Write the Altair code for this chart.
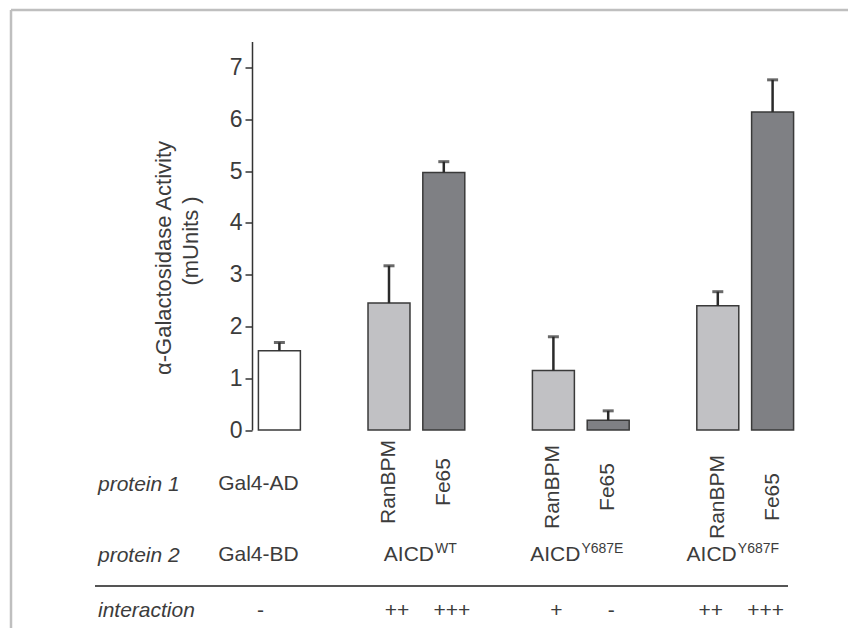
import altair as alt
import pandas as pd

# ---------------- data ----------------
categories = ["Gal4", "gap1", "RanBPM-WT", "Fe65-WT", "gap2",
              "RanBPM-Y687E", "Fe65-Y687E", "gap3", "RanBPM-Y687F", "Fe65-Y687F"]
bar_categories = ["Gal4", "RanBPM-WT", "Fe65-WT", "RanBPM-Y687E", "Fe65-Y687E",
                  "RanBPM-Y687F", "Fe65-Y687F"]
bar_group = ["control", "WT", "WT", "Y687E", "Y687E", "Y687F", "Y687F"]
bar_kind = ["control", "RanBPM", "Fe65", "RanBPM", "Fe65", "RanBPM", "Fe65"]
activity = [1.53, 2.45, 4.97, 1.15, 0.19, 2.40, 6.14]
error_up = [0.16, 0.72, 0.21, 0.65, 0.18, 0.27, 0.62]

protein1 = ["Gal4-AD", "RanBPM", "Fe65", "RanBPM", "Fe65", "RanBPM", "Fe65"]
interaction = ["-", "++", "+++", "+", "-", "++", "+++"]
protein2_base = ["Gal4-BD", "AICD", "AICD", "AICD"]
protein2_sup = ["", "WT", "Y687E", "Y687F"]
protein2_anchor = ["Gal4", "RanBPM-WT", "RanBPM-Y687E", "RanBPM-Y687F"]
protein2_group = ["control", "WT", "Y687E", "Y687F"]
row_labels = ["protein 1", "protein 2", "interaction"]

y_ticks = [0, 1, 2, 3, 4, 5, 6, 7]
y_title = ["\u03b1-Galactosidase Activity", "(mUnits )"]

# ---------------- layout / style ----------------
FONT = "Liberation Sans"
TXT = "#3c3c3c"
AX = "#333333"
W, H = 548, 388.5
group_shift = {"control": -21, "WT": 6, "Y687E": 1, "Y687F": -9}
pair_split = {"control": -21, "WT": 45, "Y687E": 27, "Y687F": 19}
ROW1, ROW2, ROW3 = 442.5, 513.5, 569.5

xscale = alt.Scale(domain=categories, paddingInner=0.234, paddingOuter=0.117)
yscale = alt.Scale(domain=[0, 7.5], nice=False)

bars_df = pd.DataFrame({
    "cat": bar_categories, "group": bar_group, "kind": bar_kind,
    "activity": activity, "err": error_up,
    "p1": protein1, "inter": interaction,
})
bars_df["top"] = bars_df["activity"] + bars_df["err"]

x_axis = alt.Axis(labels=False, title=None, tickBand="extent", tickSize=5,
                  tickWidth=1.5, tickColor=AX, domainColor=AX, domainWidth=1.5,
                  grid=False)
y_axis = alt.Axis(values=y_ticks, title=None, tickSize=7, tickWidth=1.5,
                  tickColor=AX, domainColor=AX, domainWidth=1.5, grid=False,
                  labelFont=FONT, labelFontSize=23, labelColor=TXT, labelPadding=3)

bars = alt.Chart(bars_df).mark_bar(stroke="#3a3a3a", strokeWidth=1.5).encode(
    x=alt.X("cat:N", scale=xscale, axis=x_axis, sort=categories),
    y=alt.Y("activity:Q", scale=yscale, axis=y_axis),
    fill=alt.Fill("kind:N", legend=None,
                  scale=alt.Scale(domain=["control", "RanBPM", "Fe65"],
                                  range=["#ffffff", "#c1c1c4", "#7f8084"])),
)

err_rule = alt.Chart(bars_df).mark_rule(color="#2a2a2a", strokeWidth=2.5).encode(
    x=alt.X("cat:N", scale=xscale, axis=None, sort=categories),
    y=alt.Y("activity:Q", scale=yscale),
    y2="top:Q",
)
err_cap = alt.Chart(bars_df).mark_tick(color="#2a2a2a", size=11, thickness=3).encode(
    x=alt.X("cat:N", scale=xscale, axis=None, sort=categories),
    y=alt.Y("top:Q", scale=yscale),
)

layers = [bars, err_rule, err_cap]

# per-group column labels
for g, shift in group_shift.items():
    sub = bars_df[bars_df["group"] == g]
    xenc = alt.X("cat:N", scale=xscale, axis=None, sort=categories)
    if g == "control":
        layers.append(alt.Chart(sub).mark_text(
            font=FONT, fontSize=21, color=TXT, dx=shift, align="center",
            baseline="middle").encode(x=xenc, y=alt.value(ROW1), text="p1:N"))
    else:
        layers.append(alt.Chart(sub).mark_text(
            font=FONT, fontSize=21, color=TXT, dx=shift, align="center",
            baseline="middle", angle=270).encode(x=xenc, y=alt.value(ROW1 + 4), text="p1:N"))
    layers.append(alt.Chart(sub).mark_text(
        font=FONT, fontSize=21, color=TXT, dx=shift + 2, align="center",
        baseline="middle").encode(x=xenc, y=alt.value(ROW3), text="inter:N"))

p2_df = pd.DataFrame({"cat": protein2_anchor, "group": protein2_group,
                      "base": protein2_base, "sup": protein2_sup})
for g in protein2_group:
    sub = p2_df[p2_df["group"] == g]
    xenc = alt.X("cat:N", scale=xscale, axis=None, sort=categories)
    if g == "control":
        layers.append(alt.Chart(sub).mark_text(
            font=FONT, fontSize=21, color=TXT, dx=pair_split[g], align="center",
            baseline="middle").encode(x=xenc, y=alt.value(ROW2), text="base:N"))
    else:
        layers.append(alt.Chart(sub).mark_text(
            font=FONT, fontSize=21, color=TXT, dx=pair_split[g], align="right",
            baseline="middle").encode(x=xenc, y=alt.value(ROW2), text="base:N"))
        layers.append(alt.Chart(sub).mark_text(
            font=FONT, fontSize=14, color=TXT, dx=pair_split[g] + 1, align="left",
            baseline="middle").encode(x=xenc, y=alt.value(ROW2 - 6), text="sup:N"))

# row labels on the left
for lab, yy in zip(row_labels, [ROW1 + 1, ROW2 + 1, ROW3]):
    layers.append(alt.Chart(pd.DataFrame({"t": [lab]})).mark_text(
        font=FONT, fontSize=21, fontStyle="italic", color=TXT, align="left",
        baseline="middle").encode(x=alt.value(-154), y=alt.value(yy), text="t:N"))

# y-axis title (two lines)
for t, xx, yy in zip(y_title, [-88, -61], [216.5, 199.5]):
    layers.append(alt.Chart(pd.DataFrame({"t": [t]})).mark_text(
        font=FONT, fontSize=22, color=TXT, align="center", baseline="middle",
        angle=270).encode(x=alt.value(xx), y=alt.value(yy), text="t:N"))

one = pd.DataFrame({"d": [0]})
# separator line above interaction row
layers.append(alt.Chart(one).mark_rule(color="#555555", strokeWidth=2).encode(
    x=alt.value(-157), x2=alt.value(536), y=alt.value(544.5)))
# figure frame (top and left visible)
layers.append(alt.Chart(one).mark_rule(color="#bfbfbf", strokeWidth=2.5).encode(
    x=alt.value(-241), x2=alt.value(650), y=alt.value(-31.5)))
layers.append(alt.Chart(one).mark_rule(color="#bfbfbf", strokeWidth=2.5).encode(
    x=alt.value(-241), y=alt.value(-31.5), y2=alt.value(650)))

chart = alt.layer(*layers).properties(
    width=W, height=H,
    padding={"left": 244, "top": 33.5, "right": 48, "bottom": 198},
    autosize=alt.AutoSizeParams(type="none"),
    background="white",
).configure_view(strokeWidth=0)

chart.save("out.html", embed_options={"renderer": "svg", "actions": False})
